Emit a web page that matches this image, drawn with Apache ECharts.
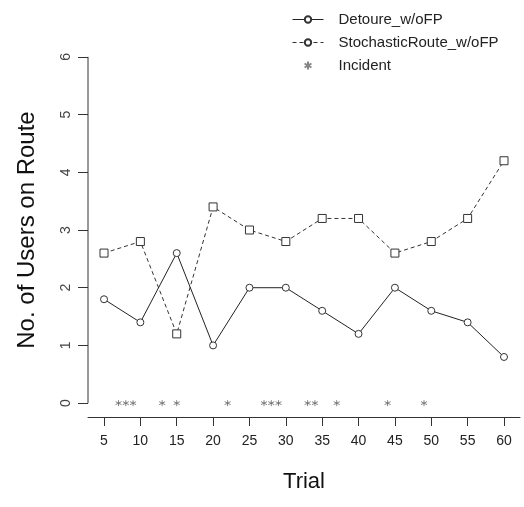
<!DOCTYPE html>
<html>
<head>
<meta charset="utf-8">
<script src="https://cdn.jsdelivr.net/npm/echarts@6/dist/echarts.min.js"></script>
<style>html,body{margin:0;padding:0;background:#fff}#c{width:524px;height:507px}</style>
</head>
<body>
<div id="c"></div>
<script>
const trials = [5, 10, 15, 20, 25, 30, 35, 40, 45, 50, 55, 60];
const detoure = [1.8, 1.4, 2.6, 1.0, 2.0, 2.0, 1.6, 1.2, 2.0, 1.6, 1.4, 0.8];
const stochastic = [2.6, 2.8, 1.2, 3.4, 3.0, 2.8, 3.2, 3.2, 2.6, 2.8, 3.2, 4.2];
const incidentTrials = [7, 8, 9, 13, 15, 22, 27, 28, 29, 33, 34, 37, 44, 49];
const incidentLevel = 0;
const xTicks = [5, 10, 15, 20, 25, 30, 35, 40, 45, 50, 55, 60];
const yTicks = [0, 1, 2, 3, 4, 5, 6];
const seriesNames = ['Detoure_w/oFP', 'StochasticRoute_w/oFP', 'Incident'];

const xMin = 2.8, xMax = 62.2, yMin = -0.24, yMax = 6.24;
const font = "'Liberation Sans', Arial, sans-serif";
const star = 'path://M5,0L5,10M0.67,2.5L9.33,7.5M0.67,7.5L9.33,2.5';

const chart = echarts.init(document.getElementById('c'), null, {renderer: 'canvas'});
chart.setOption({
  animation: false,
  backgroundColor: '#fff',
  textStyle: {fontFamily: font},
  grid: {left: 88, right: 4, top: 43, bottom: 90, containLabel: false},
  legend: {
    orient: 'vertical', left: 287, top: 7,
    itemWidth: 31, itemHeight: 8, itemGap: 8,
    lineStyle: {width: 1},
    textStyle: {fontSize: 15, color: '#222', fontFamily: font, lineHeight: 15, padding: [0, 0, 0, 10]},
    data: seriesNames
  },
  xAxis: {
    type: 'value', min: xMin, max: xMax,
    name: 'Trial', nameLocation: 'middle', nameGap: 54,
    nameTextStyle: {fontSize: 22, color: '#111', fontFamily: font},
    axisLine: {show: true, onZero: false, lineStyle: {color: '#333', width: 1}},
    axisTick: {show: true, length: 9, customValues: xTicks, lineStyle: {color: '#333'}},
    axisLabel: {show: true, customValues: xTicks, margin: 17, fontSize: 14, color: '#222', fontFamily: font},
    splitLine: {show: false}
  },
  yAxis: {
    type: 'value', min: yMin, max: yMax,
    name: 'No. of Users on Route', nameLocation: 'middle', nameGap: 49,
    nameTextStyle: {fontSize: 24, color: '#111', fontFamily: font},
    axisLine: {show: false},
    axisTick: {show: true, length: 10, customValues: yTicks, lineStyle: {color: '#333'}},
    axisLabel: {show: true, customValues: yTicks, rotate: 90, margin: 15, fontSize: 14, color: '#444', fontFamily: font},
    splitLine: {show: false}
  },
  series: [
    {
      name: seriesNames[0], type: 'line',
      data: trials.map((t, i) => [t, detoure[i]]),
      symbol: 'circle', symbolSize: 7,
      itemStyle: {color: '#fff', borderColor: '#333', borderWidth: 1},
      lineStyle: {color: '#222', width: 1, type: 'solid'},
      z: 3
    },
    {
      name: seriesNames[1], type: 'line',
      symbol: 'circle', symbolSize: 8,
      data: trials.map((t, i) => ({value: [t, stochastic[i]], symbol: 'rect'})),
      itemStyle: {color: '#fff', borderColor: '#333', borderWidth: 1},
      lineStyle: {color: '#333', width: 1, type: [4, 3]},
      z: 2
    },
    {
      name: seriesNames[2], type: 'scatter',
      data: incidentTrials.map(t => [t, incidentLevel]),
      symbol: star, symbolSize: 6,
      itemStyle: {color: 'none', borderColor: '#666', borderWidth: 1},
      z: 4
    }
  ]
});

const p0 = chart.convertToPixel({xAxisIndex: 0, yAxisIndex: 0}, [xMin, yTicks[0]]);
const p1 = chart.convertToPixel({xAxisIndex: 0, yAxisIndex: 0}, [xMin, yTicks[yTicks.length - 1]]);
chart.setOption({
  graphic: [{
    type: 'line', silent: true,
    shape: {x1: p0[0], y1: p0[1], x2: p1[0], y2: p1[1]},
    style: {stroke: '#333', lineWidth: 1}
  }]
});
</script>
</body>
</html>
